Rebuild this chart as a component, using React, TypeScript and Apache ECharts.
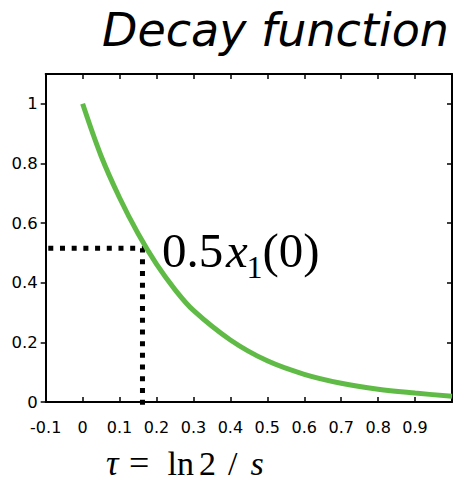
import React, { useEffect, useRef } from "react";
import * as echarts from "echarts";

const curveX = [0, 0.05, 0.1, 0.15, 0.2, 0.25, 0.3, 0.4, 0.5, 0.6, 0.7, 0.8, 0.9, 1.0];
const curveY = [1.0, 0.825, 0.685, 0.565, 0.462, 0.377, 0.307, 0.208, 0.138, 0.093, 0.063, 0.043, 0.03, 0.019];

const guideX = [-0.093, 0.162, 0.162];
const guideY = [0.516, 0.516, -0.012];

const yTicks = [0, 0.2, 0.4, 0.6, 0.8, 1];

const titleText = "Decay function";

const SERIF = "'Liberation Serif', 'Times New Roman', serif";
const SANS = "'DejaVu Sans', sans-serif";

export default function App() {
  const ref = useRef<HTMLDivElement>(null);
  useEffect(() => {
    if (!ref.current) return;
    const chart = echarts.init(ref.current, undefined, { renderer: "svg" });
    const axisLine = { show: true, onZero: false, lineStyle: { color: "#000", width: 2 } };
    const tick = (inside: boolean) => ({
      show: true,
      inside,
      length: 5,
      lineStyle: { color: "#000", width: 1.5 },
    });
    const txt = (
      text: string,
      x: number,
      baseline: number,
      size: number,
      italic = false
    ) => ({
      type: "text",
      x,
      y: baseline - 0.3375 * size,
      style: {
        text,
        font: `${italic ? "italic " : ""}${size}px ${SERIF}`,
        fill: "#000",
        textAlign: "left",
        textVerticalAlign: "middle",
        verticalAlign: "middle",
      },
      z: 100,
    });
    chart.setOption({
      animation: false,
      title: {
        text: titleText,
        right: 1,
        top: 2,
        textStyle: {
          fontFamily: SANS,
          fontStyle: "italic",
          fontWeight: 200,
          fontSize: 46,
          color: "#000",
        },
      },
      grid: { left: 45.7, right: 3, top: 74, bottom: 85, containLabel: false },
      xAxis: [
        {
          type: "value",
          position: "bottom",
          min: -0.1,
          max: 1.0,
          interval: 0.1,
          axisLine,
          axisTick: tick(true),
          splitLine: { show: false },
          axisLabel: {
            margin: 17,
            fontFamily: SANS,
            fontSize: 16,
            color: "#000",
            formatter: (v: number) =>
              v > 0.95 ? "" : String(Number(v.toFixed(1))),
          },
        },
        {
          type: "value",
          position: "top",
          min: -0.1,
          max: 1.0,
          interval: 0.1,
          axisLine,
          axisTick: tick(true),
          splitLine: { show: false },
          axisLabel: { show: false },
        },
      ],
      yAxis: [
        {
          type: "value",
          position: "left",
          min: 0,
          max: 1.1,
          axisLine,
          axisTick: { ...tick(false), customValues: yTicks },
          splitLine: { show: false },
          axisLabel: {
            customValues: yTicks,
            margin: 8,
            fontFamily: SANS,
            fontSize: 16.5,
            color: "#000",
            padding: [10, 0, 0, 0],
            formatter: (v: number) => String(Number(v.toFixed(1))),
          },
        },
        {
          type: "value",
          position: "right",
          min: 0,
          max: 1.1,
          axisLine,
          axisTick: { ...tick(true), customValues: yTicks },
          splitLine: { show: false },
          axisLabel: { show: false },
        },
      ],
      series: [
        {
          type: "line",
          xAxisIndex: 0,
          yAxisIndex: 0,
          data: guideX.map((x, i) => [x, guideY[i]]),
          symbol: "none",
          clip: false,
          lineStyle: { color: "#000", width: 5, type: [5, 6.7], cap: "butt" },
          z: 2,
        },
        {
          type: "line",
          xAxisIndex: 0,
          yAxisIndex: 0,
          data: curveX.map((x, i) => [x, curveY[i]]),
          symbol: "none",
          smooth: 0.35,
          clip: false,
          lineStyle: { color: "#60bb46", width: 5, cap: "butt" },
          z: 3,
        },
      ],
      graphic: [
        txt("0.5", 162, 267, 49),
        txt("x", 226, 267, 49, true),
        txt("1", 246.5, 278, 32),
        txt("(0)", 262.5, 267, 49),
        txt("τ", 106, 475, 35, true),
        txt("=", 129, 475, 36),
        txt("ln", 167.5, 475, 34),
        txt("2", 199, 475, 34),
        txt("/", 228, 475, 34),
        txt("s", 250.5, 475, 34, true),
      ],
    });
    return () => chart.dispose();
  }, []);
  return (
    <div
      ref={ref}
      style={{ position: "absolute", left: 0, top: 0, width: 455, height: 487 }}
    />
  );
}
